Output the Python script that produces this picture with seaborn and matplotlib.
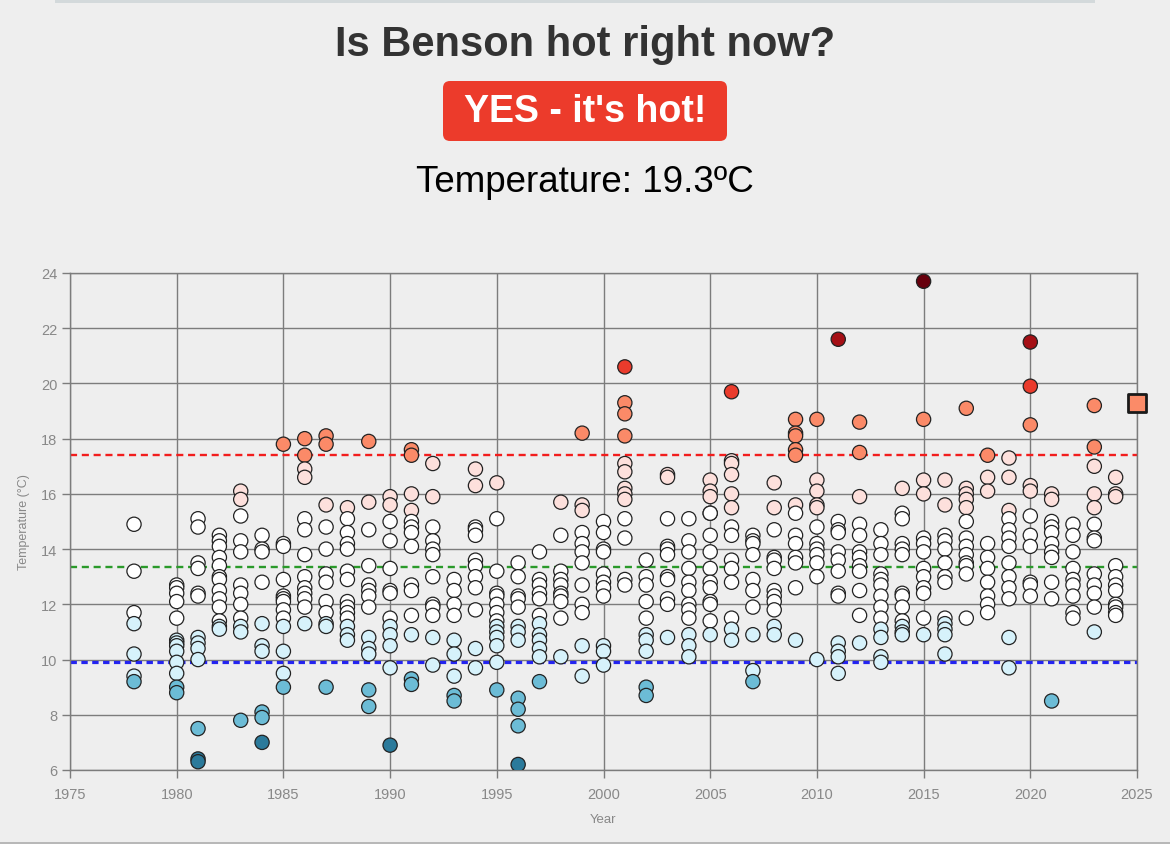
import pandas as pd
import matplotlib.pyplot as plt
import seaborn as sns
from matplotlib.patches import FancyBboxPatch, Rectangle

# readings per year
years = [1978] + list(range(1980, 2025))
readings = [
    [14.9, 13.2, 11.7, 11.3, 10.2, 9.4, 9.2],
    [12.7, 12.6, 12.4, 12.1, 11.5, 10.7, 10.6, 10.5, 10.3, 9.9, 9.5, 9.0, 8.8],
    [15.1, 14.8, 13.5, 13.3, 12.4, 12.3, 10.8, 10.6, 10.4, 10.0, 7.5, 6.4, 6.3],
    [14.5, 14.3, 14.1, 13.7, 13.4, 13.0, 12.9, 12.5, 12.2, 11.9, 11.4, 11.2, 11.1],
    [16.1, 15.8, 15.2, 14.3, 13.9, 12.7, 12.4, 12.0, 11.5, 11.2, 11.0, 7.8],
    [14.5, 14.0, 13.9, 12.8, 11.3, 10.5, 10.3, 8.1, 7.9, 7.0],
    [17.8, 14.2, 14.1, 12.9, 12.3, 12.2, 12.1, 11.8, 11.5, 11.2, 10.3, 9.5, 9.0],
    [18.0, 17.4, 16.9, 16.6, 15.1, 14.7, 13.8, 13.0, 12.6, 12.4, 12.2, 11.9, 11.3],
    [18.1, 17.8, 15.6, 14.8, 14.0, 13.1, 12.8, 12.1, 11.7, 11.3, 11.2, 9.0],
    [15.5, 15.1, 14.6, 14.2, 14.0, 13.2, 12.9, 12.1, 11.9, 11.7, 11.5, 11.2, 10.9, 10.7],
    [17.9, 15.7, 14.7, 13.4, 12.7, 12.5, 12.3, 11.9, 10.8, 10.4, 10.2, 8.9, 8.3],
    [15.9, 15.6, 15.0, 14.3, 13.3, 12.5, 12.4, 11.5, 11.2, 10.9, 10.5, 9.7, 6.9],
    [17.6, 17.4, 16.0, 15.4, 15.0, 14.8, 14.6, 14.1, 12.7, 12.5, 11.6, 10.9, 9.3, 9.1],
    [17.1, 15.9, 14.8, 14.3, 14.0, 13.8, 13.0, 12.0, 11.9, 11.6, 10.8, 9.8],
    [12.9, 12.5, 12.0, 11.6, 10.7, 10.2, 9.4, 8.7, 8.5],
    [16.9, 16.3, 14.8, 14.7, 14.5, 13.6, 13.4, 13.0, 12.6, 11.8, 10.4, 9.7],
    [16.4, 15.1, 13.2, 12.4, 12.3, 12.0, 11.7, 11.4, 11.2, 11.0, 10.8, 10.5, 9.9, 8.9],
    [13.5, 13.0, 12.3, 12.2, 11.9, 11.2, 11.0, 10.7, 8.6, 8.2, 7.6, 6.2],
    [13.9, 12.9, 12.7, 12.4, 12.2, 11.6, 11.3, 10.9, 10.7, 10.4, 10.1, 9.2],
    [15.7, 14.5, 13.2, 12.9, 12.7, 12.4, 12.3, 12.1, 11.5, 10.1],
    [18.2, 15.6, 15.4, 14.6, 14.2, 13.9, 13.5, 12.7, 12.0, 11.7, 10.5, 9.4],
    [15.0, 14.6, 14.0, 13.9, 13.1, 12.8, 12.6, 12.3, 10.5, 10.3, 9.8],
    [20.6, 19.3, 18.9, 18.1, 17.1, 16.8, 16.2, 16.0, 15.8, 15.1, 14.4, 12.9, 12.7],
    [13.6, 13.0, 12.7, 12.1, 11.5, 10.9, 10.7, 10.3, 9.0, 8.7],
    [16.7, 16.6, 15.1, 14.1, 14.0, 13.8, 13.0, 12.9, 12.2, 12.0, 10.8],
    [15.1, 14.3, 13.9, 13.3, 12.8, 12.5, 12.0, 11.8, 11.5, 10.9, 10.5, 10.1],
    [16.5, 16.1, 15.9, 15.3, 15.3, 14.5, 13.9, 13.3, 12.8, 12.6, 12.1, 12.0, 11.4, 10.9],
    [19.7, 17.2, 17.1, 16.7, 16.0, 15.5, 14.8, 14.5, 13.6, 13.3, 12.8, 11.5, 11.1, 10.7],
    [14.5, 14.3, 14.2, 13.8, 12.9, 12.5, 11.9, 10.9, 9.6, 9.2],
    [16.4, 15.5, 14.7, 13.7, 13.6, 13.3, 12.5, 12.3, 12.1, 11.8, 11.2, 10.9],
    [18.7, 18.2, 18.1, 17.6, 17.4, 15.6, 15.3, 14.5, 14.2, 13.7, 13.5, 12.6, 10.7],
    [18.7, 16.5, 16.1, 15.6, 15.5, 14.8, 14.2, 14.0, 13.8, 13.5, 13.0, 10.0],
    [21.6, 15.0, 14.7, 14.6, 13.9, 13.6, 13.2, 12.4, 12.3, 10.6, 10.3, 10.1, 9.5],
    [18.6, 17.5, 15.9, 14.9, 14.5, 13.9, 13.7, 13.4, 13.2, 12.5, 11.6, 10.6],
    [14.7, 14.2, 13.8, 13.1, 12.9, 12.7, 12.3, 11.9, 11.5, 11.1, 10.8, 10.1, 9.9],
    [16.2, 15.3, 15.1, 14.2, 14.0, 13.8, 12.4, 12.3, 11.9, 11.4, 11.2, 11.0, 10.9],
    [23.7, 18.7, 16.5, 16.0, 14.4, 14.2, 13.9, 13.3, 13.0, 12.6, 12.4, 11.5, 10.9],
    [16.5, 15.6, 14.5, 14.3, 14.0, 13.5, 13.0, 12.8, 11.5, 11.3, 11.1, 10.9, 10.2],
    [19.1, 16.2, 16.0, 15.8, 15.5, 15.0, 14.4, 14.1, 13.8, 13.5, 13.4, 13.1, 11.5],
    [17.4, 16.6, 16.1, 14.2, 13.7, 13.3, 12.8, 12.3, 12.0, 11.7],
    [17.3, 16.6, 15.4, 15.1, 14.7, 14.4, 14.1, 13.5, 13.0, 12.6, 12.2, 10.8, 9.7],
    [21.5, 19.9, 18.5, 16.3, 16.1, 15.2, 14.5, 14.1, 12.8, 12.7, 12.3],
    [16.0, 15.8, 15.0, 14.8, 14.6, 14.2, 13.9, 13.7, 12.8, 12.2, 8.5],
    [14.9, 14.5, 13.9, 13.3, 12.9, 12.7, 12.3, 11.7, 11.5],
    [19.2, 17.7, 17.0, 16.0, 15.5, 14.9, 14.4, 14.3, 13.1, 12.7, 12.4, 11.9, 11.0],
    [16.6, 16.0, 15.9, 13.4, 13.0, 12.7, 12.5, 12.0, 11.9, 11.7, 11.6],
]
current_year = 2025
current_temp = 19.3
hot_line = 17.4
avg_line = 13.35
cold_line = 9.9

# colour bands (lower bound, colour)
band_edges = [23.0, 21.0, 19.5, 17.35, 15.35, 11.35, 9.35, 7.2, -99]
band_colors = ["#67000d", "#a50f15", "#ea3b2c", "#fb8a68", "#fde0dc",
               "#ffffff", "#d6f2fb", "#6cbcd6", "#2b7a9b"]


def band(t):
    for i, edge in enumerate(band_edges):
        if t >= edge:
            return i
    return len(band_edges) - 1


rows = [(y, t) for y, temps in zip(years, readings) for t in temps]
df = pd.DataFrame(rows, columns=["year", "temp"])
df["band"] = df["temp"].apply(band)

sns.set_style("whitegrid")
plt.rcParams["font.family"] = ["Liberation Sans", "DejaVu Sans"]

bg = "#eeeeee"
fig = plt.figure(figsize=(11.7, 8.45), dpi=100)
fig.patch.set_facecolor(bg)
W, H = 1170, 845

# header
fig.text(0.5, 1 - 45 / H, "Is Benson hot right now?", ha="center", va="center",
         fontsize=30, fontweight="bold", color="#333333")
fig.patches.append(FancyBboxPatch((443 / W, 1 - 142 / H), 284 / W, 60 / H,
                                  boxstyle="round,pad=0,rounding_size=0.006",
                                  mutation_aspect=W / H, transform=fig.transFigure,
                                  facecolor="#ec3b2b", edgecolor="none"))
fig.text(0.5, 1 - 112 / H, "YES - it's hot!", ha="center", va="center",
         fontsize=27, fontweight="bold", color="white")
fig.text(0.5, 1 - 182 / H, "Temperature: 19.3ºC", ha="center", va="center",
         fontsize=26.5, color="black")

# browser remnants
fig.patches.append(Rectangle((55 / W, 1 - 4 / H), 1040 / W, 4 / H,
                             transform=fig.transFigure, facecolor="#d3d9db", edgecolor="none"))
fig.patches.append(Rectangle((0, 0), 1, 2 / H, transform=fig.transFigure,
                             facecolor="#b8b8b8", edgecolor="none"))

ax = fig.add_axes([70 / W, 74 / H, 1067 / W, 497 / H])
ax.set_facecolor(bg)

sns.scatterplot(data=df, x="year", y="temp", hue="band",
                palette=dict(enumerate(band_colors)), s=105,
                edgecolor="#222222", linewidth=0.9, legend=False, ax=ax, zorder=3)

ax.axhline(hot_line, color="#f21d1d", lw=1.7, dashes=(3, 2), zorder=2)
ax.axhline(avg_line, color="#2a9a2a", lw=1.7, dashes=(3, 2), zorder=2)
ax.axhline(cold_line, color="#2424f0", lw=2.3, dashes=(2, 1.4), zorder=2)

sns.scatterplot(x=[current_year], y=[current_temp], marker="s", s=165,
                color="#fb8b68", edgecolor="#1a1a1a", linewidth=2,
                legend=False, ax=ax, zorder=5, clip_on=False)

ax.set_xlim(1975, 2025)
ax.set_ylim(6, 24)
ax.set_xticks(range(1975, 2026, 5))
ax.set_yticks(range(6, 25, 2))
ax.grid(True, color="#7c7c7c", lw=1.0)
ax.set_axisbelow(True)
for s in ax.spines.values():
    s.set_color("#7c7c7c")
    s.set_linewidth(1.0)
ax.tick_params(length=6, width=1.0, color="#7c7c7c", labelcolor="#888888",
               labelsize=10.5, left=True, bottom=True)
ax.tick_params(axis="x", pad=6)
ax.tick_params(axis="y", pad=3)
ax.set_xlabel("Year", color="#888888", fontsize=9.5, labelpad=9)
ax.set_ylabel("Temperature (°C)", color="#888888", fontsize=9, labelpad=8)

fig.savefig("out.png", dpi=100, facecolor=bg)
